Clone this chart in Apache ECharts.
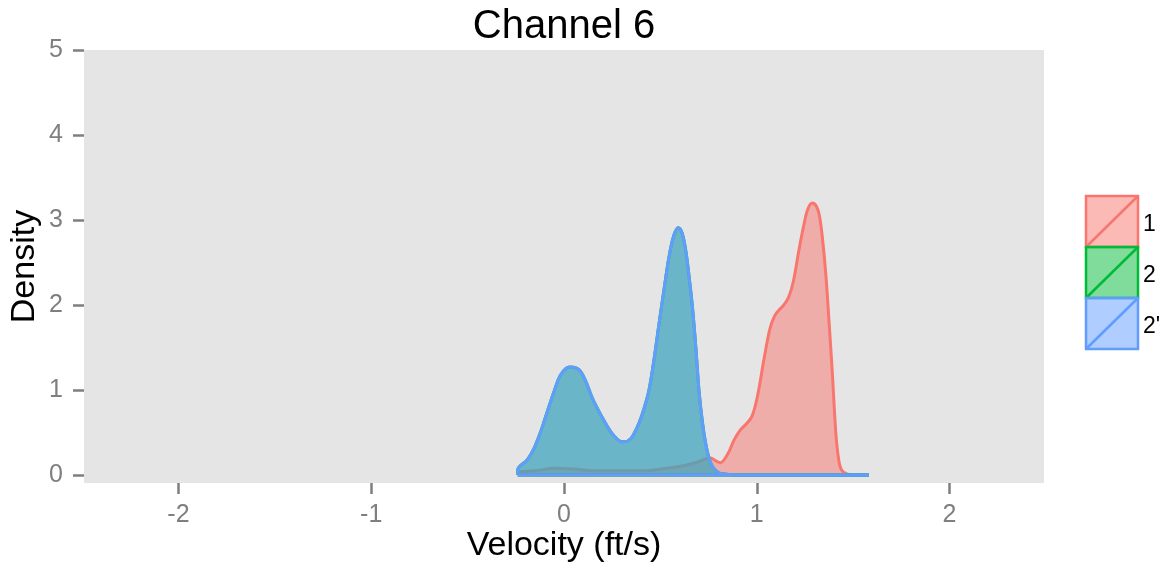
<!DOCTYPE html>
<html>
<head>
<meta charset="utf-8">
<script src="https://cdn.jsdelivr.net/npm/echarts@6/dist/echarts.min.js"></script>
<style>
html,body{margin:0;padding:0;background:#fff;}
#chart{width:1167px;height:573px;}
</style>
</head>
<body>
<div id="chart"></div>
<script>
// ---- data ----
const chartTitle = 'Channel 6';
const xTicks = [-2, -1, 0, 1, 2];
const yTicks = [0, 1, 2, 3, 4, 5];
const groupNames = ['1', '2', "2'"];
const groupColors = ['#F8766D', '#00BA38', '#619CFF'];

const vel1 = [-0.24,-0.15,-0.04,0.05,0.15,0.3,0.41,0.53,0.62,0.69,0.735,0.761,0.785,0.81,0.85,0.882,0.915,0.945,0.975,1.003,1.038,1.068,1.092,1.115,1.14,1.165,1.19,1.219,1.245,1.265,1.288,1.31,1.325,1.34,1.358,1.375,1.392,1.41,1.425,1.44,1.47,1.52,1.58];
const dens1 = [0.03,0.05,0.08,0.07,0.05,0.05,0.05,0.08,0.11,0.15,0.19,0.2,0.17,0.145,0.25,0.41,0.53,0.6,0.69,0.92,1.37,1.72,1.87,1.94,2.0,2.09,2.28,2.65,2.95,3.13,3.2,3.16,3.05,2.8,2.37,1.8,1.2,0.5,0.18,0.06,0.01,0,0];

const vel2 = [-0.24,-0.19,-0.156,-0.121,-0.087,-0.052,-0.017,0.03,0.086,0.156,0.225,0.26,0.3,0.33,0.354,0.389,0.415,0.441,0.467,0.493,0.52,0.545,0.57,0.593,0.612,0.631,0.648,0.666,0.684,0.7,0.718,0.735,0.752,0.77,0.8,0.84,0.95,1.2,1.58];
const dens2 = [0.06,0.18,0.31,0.51,0.745,0.98,1.18,1.27,1.22,0.86,0.57,0.46,0.39,0.4,0.45,0.61,0.78,1.0,1.36,1.78,2.2,2.57,2.82,2.91,2.85,2.65,2.35,1.98,1.5,1.0,0.62,0.37,0.2,0.1,0.03,0.01,0,0,0];

const vel3 = [-0.24,-0.19,-0.156,-0.121,-0.087,-0.052,-0.017,0.03,0.086,0.156,0.225,0.26,0.3,0.33,0.354,0.389,0.415,0.441,0.467,0.493,0.52,0.545,0.57,0.593,0.612,0.631,0.648,0.666,0.684,0.7,0.718,0.735,0.752,0.77,0.8,0.84,0.95,1.2,1.58];
const dens3 = [0.06,0.18,0.31,0.51,0.745,0.98,1.18,1.27,1.22,0.86,0.57,0.46,0.39,0.4,0.45,0.61,0.78,1.0,1.36,1.78,2.2,2.57,2.82,2.91,2.85,2.65,2.35,1.98,1.5,1.0,0.62,0.37,0.2,0.1,0.03,0.01,0,0,0];

const velocities = [vel1, vel2, vel3];
const densities = [dens1, dens2, dens3];

// ---- chart ----
const chart = echarts.init(document.getElementById('chart'), null, {renderer: 'canvas'});
const FONT = 'Liberation Sans, Arial, Helvetica, sans-serif';

function pairs(xs, ys) { return xs.map((x, i) => [x, ys[i]]); }

const series = [];
groupNames.forEach((name, g) => {
  const xs = velocities[g];
  // baseline edge of the density polygon
  series.push({
    name: name + '_base',
    type: 'line',
    data: [[xs[0], 0], [xs[xs.length - 1], 0]],
    symbol: 'none',
    silent: true,
    lineStyle: {color: groupColors[g], width: 3},
    z: 2 + g * 2
  });
  series.push({
    name: name,
    type: 'line',
    data: [[xs[0], 0]].concat(pairs(xs, densities[g])),
    symbol: 'none',
    smooth: 0.35,
    silent: true,
    lineStyle: {color: groupColors[g], width: 3},
    areaStyle: {color: groupColors[g], opacity: 0.5},
    z: 3 + g * 2
  });
});

// legend drawn as ggplot-style keys
const legendGraphics = [];
const keyX = 1086, keyY = 196, keyW = 52, keyH = 51;
groupNames.forEach((name, g) => {
  const y0 = keyY + g * keyH;
  legendGraphics.push({
    type: 'rect', shape: {x: keyX, y: y0, width: keyW, height: keyH},
    style: {fill: echarts.color.modifyAlpha(groupColors[g], 0.5), stroke: groupColors[g], lineWidth: 2.5}
  });
  legendGraphics.push({
    type: 'line', shape: {x1: keyX, y1: y0 + keyH, x2: keyX + keyW, y2: y0},
    style: {stroke: groupColors[g], lineWidth: 2.5}
  });
  legendGraphics.push({
    type: 'text', x: keyX + keyW + 5, y: y0 + keyH / 2 + 3,
    style: {text: name, fill: '#000', font: '23px ' + FONT, textVerticalAlign: 'middle', textAlign: 'left'}
  });
});
legendGraphics.push({
  type: 'text', x: 564, y: 27,
  style: {text: chartTitle, fill: '#000', font: '40px ' + FONT, textAlign: 'center', textVerticalAlign: 'middle'}
});

chart.setOption({
  animation: false,
  backgroundColor: '#ffffff',
  grid: {left: 84, right: 123, top: 50, bottom: 90, show: true, backgroundColor: '#E5E5E5', borderWidth: 0,
         containLabel: false, outerBoundsMode: 'none'},
  xAxis: {
    type: 'value', min: -2.49, max: 2.49,
    name: 'Velocity (ft/s)', nameLocation: 'middle', nameGap: 46, nameMoveOverlap: false,
    nameTextStyle: {color: '#000', fontSize: 34, fontFamily: FONT},
    axisLine: {show: false, onZero: false},
    splitLine: {show: false},
    axisTick: {show: true, length: 11, customValues: xTicks, lineStyle: {color: '#7F7F7F', width: 2.5}},
    axisLabel: {customValues: xTicks, color: '#7F7F7F', fontSize: 25, fontFamily: FONT, margin: 20}
  },
  yAxis: {
    type: 'value', min: -0.094, max: 5,
    name: 'Density', nameLocation: 'middle', nameGap: 42, nameRotate: 90, nameMoveOverlap: false,
    nameTextStyle: {color: '#000', fontSize: 34, fontFamily: FONT},
    axisLine: {show: false, onZero: false},
    splitLine: {show: false},
    axisTick: {show: true, length: 11, customValues: yTicks, lineStyle: {color: '#7F7F7F', width: 2.5}},
    axisLabel: {customValues: yTicks, color: '#7F7F7F', fontSize: 25, fontFamily: FONT, margin: 21}
  },
  series: series,
  graphic: legendGraphics
});
</script>
</body>
</html>
